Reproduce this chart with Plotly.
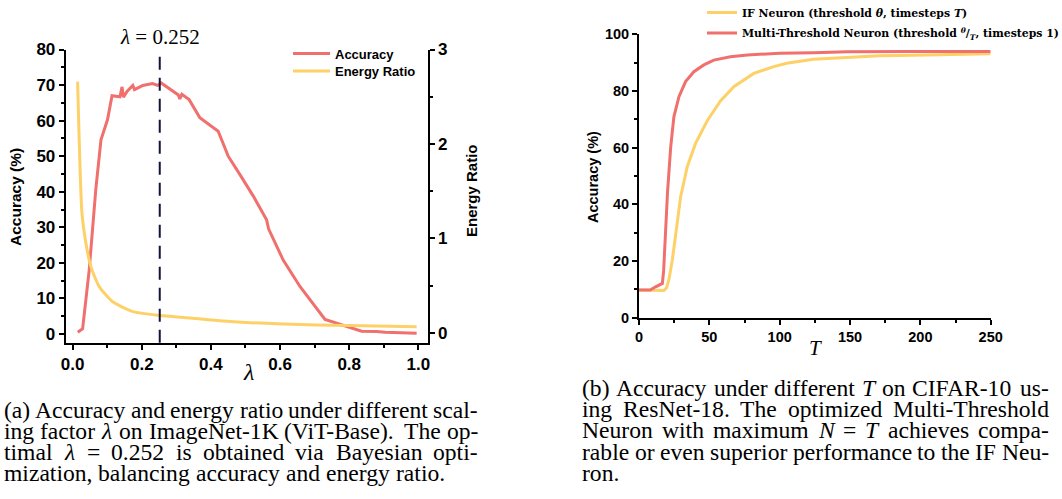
import plotly.graph_objects as go

# ---------------- data: left panel (scaling factor lambda) ----------------
lam_acc = [0.015, 0.029, 0.048, 0.067, 0.082, 0.101, 0.114, 0.137, 0.143, 0.147, 0.158,
           0.174, 0.179, 0.203, 0.231, 0.246, 0.256, 0.289, 0.306, 0.310, 0.316, 0.337,
           0.349, 0.368, 0.421, 0.450, 0.484, 0.523, 0.561, 0.567, 0.609, 0.658, 0.730,
           0.793, 0.836, 0.879, 0.904, 0.995]
accuracy = [0.5, 1.5, 18.0, 40.6, 54.6, 60.3, 67.0, 66.7, 69.5, 66.6, 68.3,
            69.9, 68.7, 69.9, 70.4, 69.9, 70.6, 68.3, 67.2, 66.1, 67.4, 65.9,
            63.8, 60.8, 57.0, 50.0, 44.8, 38.7, 32.1, 29.5, 20.8, 13.3, 4.1,
            2.1, 0.8, 0.7, 0.5, 0.2]

lam_en = [0.0145, 0.027, 0.0385, 0.053, 0.077, 0.116, 0.174, 0.255, 0.357, 0.417,
          0.513, 0.609, 0.706, 0.802, 0.995]
energy_ratio = [2.66, 1.27, 0.95, 0.70, 0.49, 0.33, 0.226, 0.185, 0.152, 0.131,
                0.109, 0.095, 0.085, 0.078, 0.067]

LAMBDA_OPT = 0.252

# ---------------- data: right panel (timesteps T) ----------------
T_if = [0, 14, 17.7, 19.6, 21.3, 23.7, 26, 29.6, 34.3, 40.2, 48.5, 57.9, 67.4, 81.6,
        95.8, 105, 124, 148, 171, 195, 250]
acc_if = [9.8, 9.8, 9.6, 10.6, 13.5, 20.4, 29.8, 42.7, 53.3, 61.5, 69.5, 76.5, 81.5, 86.2,
          88.6, 89.8, 91.2, 91.9, 92.4, 92.6, 93.1]

T_mt = [0, 8, 11.8, 14, 16.6, 17.5, 18.9, 20.3, 22.5, 24.8, 28.4, 33.1, 39, 46.1, 53.2,
        65, 77, 100, 124, 148, 195, 250]
acc_mt = [9.8, 9.8, 10.9, 11.5, 12.1, 16.5, 29.8, 44.5, 60.0, 70.9, 78.0, 83.3, 86.8, 89.2,
          90.9, 92.1, 92.7, 93.3, 93.5, 93.8, 93.9, 93.9]

# ---------------- caption text ----------------
caption_a = ["(a) Accuracy and energy ratio under different scal-",
             "ing factor <i>λ</i> on ImageNet-1K (ViT-Base). The op-",
             "timal <i>λ</i> = 0.252 is obtained via Bayesian opti-",
             "mization, balancing accuracy and energy ratio."]
caption_b = ["(b) Accuracy under different <i>T</i> on CIFAR-10 us-",
             "ing ResNet-18. The optimized Multi-Threshold",
             "Neuron with maximum <i>N</i> = <i>T</i> achieves compa-",
             "rable or even superior performance to the IF Neu-",
             "ron."]

RED = "#EF706C"
YELLOW = "#FDD167"
W, H = 1062, 499
serif = "Liberation Serif, Times New Roman, serif"
sans = "Liberation Sans, Arial, sans-serif"
cm_bold = "DejaVu Serif, serif"


def px_x(p):
    return p / W


def px_y(p):
    return 1 - p / H


fig = go.Figure()

fig.add_trace(go.Scatter(x=lam_acc, y=accuracy, name="Accuracy", mode="lines",
                         line=dict(color=RED, width=3), xaxis="x", yaxis="y",
                         legend="legend"))
fig.add_trace(go.Scatter(x=lam_en, y=energy_ratio, name="Energy Ratio", mode="lines",
                         line=dict(color=YELLOW, width=3, shape="spline", smoothing=0.6),
                         xaxis="x", yaxis="y2", legend="legend2"))
fig.add_trace(go.Scatter(x=T_if, y=acc_if, name="IF Neuron (threshold <i>θ</i>, timesteps <i>T</i>)",
                         mode="lines", line=dict(color=YELLOW, width=3),
                         xaxis="x2", yaxis="y3", legend="legend3"))
fig.add_trace(go.Scatter(x=T_mt, y=acc_mt,
                         name="Multi-Threshold Neuron (threshold <sup><i>θ</i></sup>/<sub><i>T</i></sub>, timesteps 1)",
                         mode="lines", line=dict(color=RED, width=3),
                         xaxis="x2", yaxis="y3", legend="legend4"))


def axis_common(size):
    return dict(showline=True, linewidth=2, linecolor="black", ticks="outside",
                ticklen=5, tickwidth=1.5, tickcolor="black", showgrid=False,
                zeroline=False,
                tickfont=dict(family=sans, size=size, color="black", weight="bold"))


def minor(d):
    return dict(dtick=d, ticklen=3, tickwidth=1.5, tickcolor="black", ticks="outside")


def leg(x, y, font, iw=30):
    return dict(x=px_x(x), y=px_y(y), xanchor="left", yanchor="middle", itemwidth=iw,
                bgcolor="rgba(0,0,0,0)", borderwidth=0, font=font)


leg_font_a = dict(family=sans, size=13, color="black", weight="bold")
leg_font_b = dict(family=cm_bold, size=10.9, color="black", weight="bold")

fig.update_layout(
    width=W, height=H,
    margin=dict(l=0, r=0, t=0, b=0, pad=0, autoexpand=False),
    paper_bgcolor="white", plot_bgcolor="white",
    xaxis=dict(domain=[px_x(65.7), px_x(427.7)], range=[-0.02, 1.027], anchor="y",
               tickvals=[0, 0.2, 0.4, 0.6, 0.8, 1.0], tickformat=".1f",
               minor=minor(0.1), **axis_common(17)),
    yaxis=dict(domain=[px_y(342.7), px_y(49.5)], range=[-2.45, 80], anchor="x",
               dtick=10, tick0=0, minor=minor(5), **axis_common(17)),
    yaxis2=dict(overlaying="y", side="right", anchor="x", range=[-0.103, 3.0],
                dtick=1, tick0=0, minor=minor(0.5), **axis_common(17)),
    xaxis2=dict(domain=[px_x(639), px_x(990.7)], range=[0, 250], anchor="y3",
                dtick=50, tick0=0, minor=minor(25), **axis_common(14.5)),
    yaxis3=dict(domain=[px_y(317.7), px_y(34.3)], range=[0, 100], anchor="x2",
                dtick=20, tick0=0, minor=minor(10), **axis_common(14.5)),
    legend=leg(288, 53.5, leg_font_a, 37),
    legend2=leg(288, 71, leg_font_a, 37),
    legend3=leg(702, 12.5, leg_font_b),
    legend4=leg(702, 33, leg_font_b),
    showlegend=True,
)

# optimal lambda dashed line
fig.add_shape(type="line", xref="x", yref="y domain", x0=LAMBDA_OPT, x1=LAMBDA_OPT,
              y0=0, y1=1, line=dict(color="#10133A", width=2, dash="13px,8px"))

ann = []
ann.append(dict(x=LAMBDA_OPT, xref="x", y=px_y(37), yref="paper", text="<i>λ</i> = 0.252",
                showarrow=False, font=dict(family=serif, size=21, color="black"),
                xanchor="center", yanchor="middle"))
# axis titles
ann.append(dict(x=px_x(15), y=px_y(197), xref="paper", yref="paper", text="<b>Accuracy (%)</b>",
                textangle=-90, showarrow=False, font=dict(family=sans, size=15.5, color="black"),
                xanchor="center", yanchor="middle"))
ann.append(dict(x=px_x(471), y=px_y(191), xref="paper", yref="paper", text="<b>Energy Ratio</b>",
                textangle=-90, showarrow=False, font=dict(family=sans, size=15, color="black"),
                xanchor="center", yanchor="middle"))
ann.append(dict(x=px_x(248), y=px_y(372), xref="paper", yref="paper", text="<i>λ</i>",
                showarrow=False, font=dict(family=serif, size=24, color="black"),
                xanchor="center", yanchor="middle"))
ann.append(dict(x=px_x(593), y=px_y(177), xref="paper", yref="paper", text="<b>Accuracy (%)</b>",
                textangle=-90, showarrow=False, font=dict(family=sans, size=14.5, color="black"),
                xanchor="center", yanchor="middle"))
ann.append(dict(x=px_x(815), y=px_y(348), xref="paper", yref="paper", text="<i>T</i>",
                showarrow=False, font=dict(family=serif, size=21, color="black"),
                xanchor="center", yanchor="middle"))

# ---------- justified captions (word placement with Times metrics) ----------
ROMAN = {" ": 250, "(": 333, ")": 333, ".": 250, ",": 250, "-": 333, "=": 564,
         "λ": 500, "θ": 500}
ROMAN.update({c: 500 for c in "0123456789"})
ROMAN.update(dict(zip("abcdefghijklmnopqrstuvwxyz",
                      [444, 500, 444, 500, 444, 333, 500, 500, 278, 278, 500, 278, 778,
                       500, 500, 500, 500, 333, 389, 278, 500, 500, 722, 500, 500, 444])))
ROMAN.update(dict(zip("ABCDEFGHIJKLMNOPQRSTUVWXYZ",
                      [722, 667, 667, 722, 611, 556, 722, 722, 333, 389, 722, 611, 889,
                       722, 722, 556, 722, 667, 556, 611, 722, 722, 944, 722, 722, 611])))
ITALIC = {"T": 556, "N": 667, "λ": 500}


def word_width(word, size):
    if word.startswith("<i>"):
        core = word[3:-4]
        return sum(ITALIC.get(c, ROMAN.get(c, 500)) for c in core) * size / 1000
    return sum(ROMAN.get(c, 500) for c in word) * size / 1000


def caption(lines, x0, width, y0, dy, size):
    out = []
    for i, line in enumerate(lines):
        words = line.split(" ")
        widths = [word_width(w, size) for w in words]
        last = i == len(lines) - 1
        if last or len(words) < 2:
            gap = 0.25 * size
        else:
            gap = (width - sum(widths)) / (len(words) - 1)
        x = x0
        for w, ww in zip(words, widths):
            out.append(dict(x=px_x(x - 1), y=px_y(y0 + dy * i), xref="paper", yref="paper",
                            text=w, showarrow=False, borderpad=0, borderwidth=0,
                            font=dict(family=serif, size=size, color="black"),
                            xanchor="left", yanchor="middle"))
            x += ww + gap
    return out


ann += caption(caption_a, 5, 474, 410, 21, 23.6)
ann += caption(caption_b, 583, 467, 388, 21.2, 23.6)

fig.update_layout(annotations=ann)

fig.write_html("out.html", config={"displayModeBar": False},
               post_script="document.body.style.margin='0';document.body.style.overflow='hidden';")
